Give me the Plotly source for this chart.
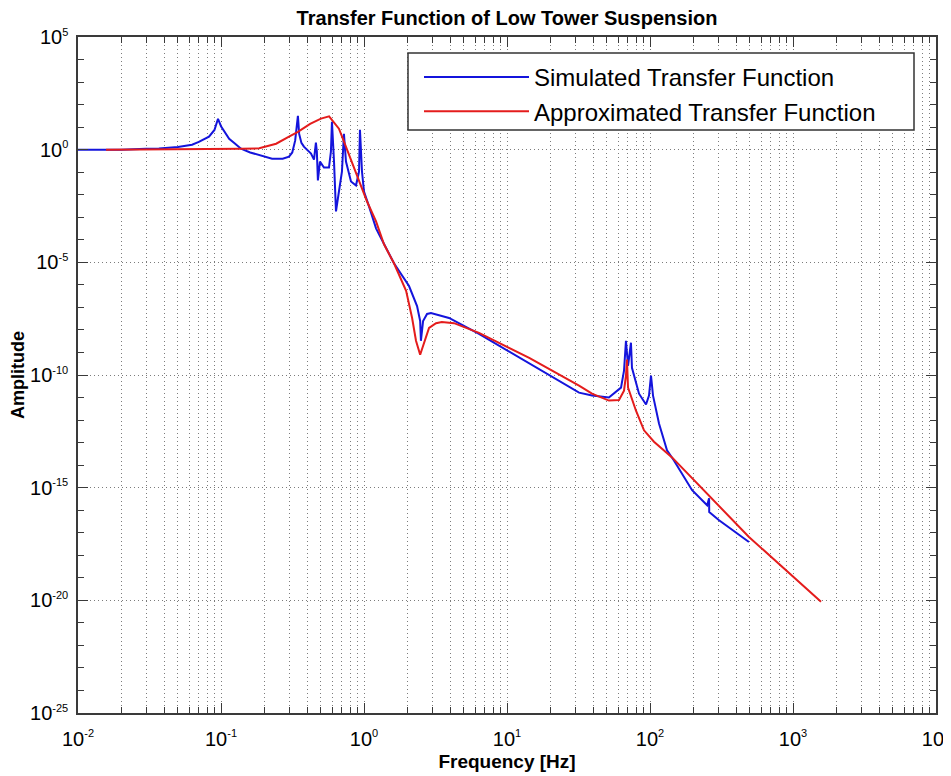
import plotly.graph_objects as go

# ---------------- data ----------------
sim_freq = [0.01, 0.02, 0.0299, 0.0368, 0.05, 0.0627, 0.07, 0.0824, 0.09, 0.0953,
            0.1, 0.107, 0.114, 0.125, 0.138, 0.16, 0.1845, 0.2275, 0.27, 0.299,
            0.315, 0.33, 0.345, 0.352, 0.365, 0.380, 0.426,
            0.447, 0.461, 0.468, 0.476, 0.492, 0.525, 0.569, 0.587, 0.597, 0.617,
            0.637, 0.668, 0.701, 0.724, 0.748, 0.811, 0.879, 0.923, 0.937, 0.968,
            1.0, 1.084, 1.214, 1.274, 1.62, 2.065, 2.35, 2.47, 2.5, 2.59,
            2.76, 2.94, 3.93, 6.37, 14.3, 31.9, 39.3, 51.6, 62.7, 65.8,
            67.9, 70.2, 73.6, 74.8, 83.8, 93.8, 98.4, 101.6, 105, 115.6,
            131.5, 147, 197, 251, 259, 259.5, 304, 492]
sim_amp = [1.0, 1.0, 1.1, 1.12, 1.3, 1.66, 2.2, 3.75, 7.5, 23.4,
           11, 5.5, 3.06, 1.9, 1.1, 0.75, 0.6, 0.4, 0.4, 0.49,
           0.75, 2.5, 31.8, 5.0, 2.0, 1.36, 0.67,
           0.36, 2.04, 0.82, 0.043, 0.295, 0.16, 0.16, 0.82, 17.3, 0.295,
           1.82e-3, 0.0139, 0.107, 5.1, 0.295, 0.0385, 0.0257, 0.107, 7.65, 0.107,
           0.0139, 3.03e-3, 3.23e-4, 1.75e-4, 9.1e-6, 8.9e-7, 1.15e-7, 2.5e-8, 3.3e-9, 2.5e-8,
           5.1e-8, 5.6e-8, 3.4e-8, 6.7e-9, 3.2e-10, 1.65e-11, 1.22e-11, 1.0e-11, 2.75e-11, 1.55e-10,
           3.3e-9, 2.57e-10, 2.7e-9, 2.1e-10, 1.48e-11, 4.9e-12, 1.22e-11, 9.3e-11, 1.22e-11, 7.0e-13,
           4.5e-14, 1.6e-14, 7.7e-16, 1.66e-16, 3.4e-16, 8.3e-17, 3.6e-17, 3.9e-18]

approx_freq = [0.0157, 0.05, 0.1, 0.138, 0.185, 0.243, 0.299, 0.345, 0.42, 0.5,
               0.57, 0.61, 0.668, 0.72, 0.785, 0.87, 0.953, 1.05, 1.214, 1.38,
               1.62, 1.97, 2.17, 2.31, 2.47, 2.63, 2.85, 3.19, 3.5, 4.26,
               6.37, 14.3, 31.9, 39.3, 51.6, 60.7, 65.8, 67.9, 69.0, 70.2,
               79.8, 90.8, 106.6, 142.6, 492, 1570]
approx_amp = [1.0, 1.02, 1.05, 1.1, 1.15, 1.84, 3.75, 6.2, 14, 24,
              30, 17, 8.5, 2.5, 0.6, 0.12, 0.028, 5e-3, 6.6e-4, 6.3e-5,
              9.1e-6, 5.4e-7, 3.4e-8, 3.3e-9, 7.9e-10, 2.7e-9, 1.23e-8, 2.0e-8, 2.26e-8, 2.0e-8,
              7.4e-9, 5.8e-10, 3.4e-11, 1.48e-11, 7.3e-12, 7.8e-12, 2.0e-11, 9.3e-11, 4.8e-10, 2.75e-11,
              2.6e-12, 3.5e-13, 1.1e-13, 2.2e-14, 6.5e-18, 8.7e-21]

x_exponents = [-2, -1, 0, 1, 2, 3, 4]
y_exponents = [5, 0, -5, -10, -15, -20, -25]
y_minor_exponents = list(range(-25, 6))

SUP = "10<sup><span style='font-size:11px'>%d</span></sup>"
x_tickvals = [10.0 ** e for e in x_exponents]
x_ticktext = [SUP % e for e in x_exponents]
y_tickvals = [10.0 ** e for e in y_exponents]
y_ticktext = [SUP % e for e in y_exponents]
y_minor_vals = [10.0 ** e for e in y_minor_exponents]

FONT = "Liberation Sans, Arial, sans-serif"
GRID = "#7c7c7c"
AXIS = "#3a3a3a"

# page body has an 8px margin: the figure is placed at (8, 8)
W, H = 951, 768
OFF = 8
PL, PR, PT, PB = 78, 936, 37, 713          # plot area in screen pixels
PW, PH = PR - PL, PB - PT


def px(xs):
    return (xs - PL) / PW


def py(ys):
    return (PB - ys) / PH


fig = go.Figure()
fig.add_trace(go.Scatter(x=sim_freq, y=sim_amp, mode="lines",
                         name="Simulated Transfer Function",
                         line=dict(color="#1414dc", width=2)))
fig.add_trace(go.Scatter(x=approx_freq, y=approx_amp, mode="lines",
                         name="Approximated Transfer Function",
                         line=dict(color="#e41c1c", width=2)))

fig.update_layout(
    width=W, height=H,
    margin=dict(l=PL - OFF, r=W - (PR - OFF), t=PT - OFF, b=H - (PB - OFF),
                autoexpand=False),
    paper_bgcolor="white", plot_bgcolor="white",
    font=dict(family=FONT, color="black"),
    title=dict(text="Transfer Function of Low Tower Suspension",
               font=dict(family=FONT, size=20, weight="bold", color="black"),
               x=px(507), xanchor="center", y=1 - (18 - OFF) / H, yanchor="middle",
               xref="paper", yref="container"),
    showlegend=True,
    legend=dict(x=px(419), y=py(55), xanchor="left", yanchor="top",
                bgcolor="rgba(0,0,0,0)", borderwidth=0,
                font=dict(family=FONT, size=24, color="black"),
                itemwidth=105, tracegroupgap=0),
    shapes=[dict(type="rect", xref="paper", yref="paper",
                 x0=px(408), x1=px(914), y0=py(130), y1=py(53),
                 line=dict(color="#333333", width=1.5), fillcolor="white",
                 layer="above")],
)

fig.update_xaxes(
    type="log", range=[-2, 4], automargin=False,
    tickmode="array", tickvals=x_tickvals, ticktext=x_ticktext,
    tickfont=dict(family=FONT, size=20, color="black"),
    ticks="inside", ticklen=10, tickcolor=AXIS, tickwidth=1,
    ticklabelstandoff=7,
    showline=True, linecolor=AXIS, linewidth=1.5, mirror="allticks",
    showgrid=True, gridcolor=GRID, gridwidth=1, griddash="1px,3px",
    minor=dict(dtick="D1", ticks="inside", ticklen=6, tickcolor=AXIS,
               showgrid=True, gridcolor=GRID, gridwidth=1, griddash="1px,3px"),
    zeroline=False,
    title=dict(text="Frequency [Hz]", standoff=6,
               font=dict(family=FONT, size=19, weight="bold", color="black")),
)
fig.update_yaxes(
    type="log", range=[-25, 5], automargin=False,
    tickmode="array", tickvals=y_tickvals, ticktext=y_ticktext,
    tickfont=dict(family=FONT, size=20, color="black"),
    ticks="inside", ticklen=10, tickcolor=AXIS, tickwidth=1,
    ticklabelstandoff=4,
    showline=True, linecolor=AXIS, linewidth=1.5, mirror="allticks",
    showgrid=True, gridcolor=GRID, gridwidth=1, griddash="1px,3px",
    minor=dict(tickmode="array", tickvals=y_minor_vals, ticks="inside",
               ticklen=6, tickcolor=AXIS, showgrid=False),
    zeroline=False,
    title=dict(text="Amplitude", standoff=4,
               font=dict(family=FONT, size=18, weight="bold", color="black")),
)

fig.write_html("out.html")
